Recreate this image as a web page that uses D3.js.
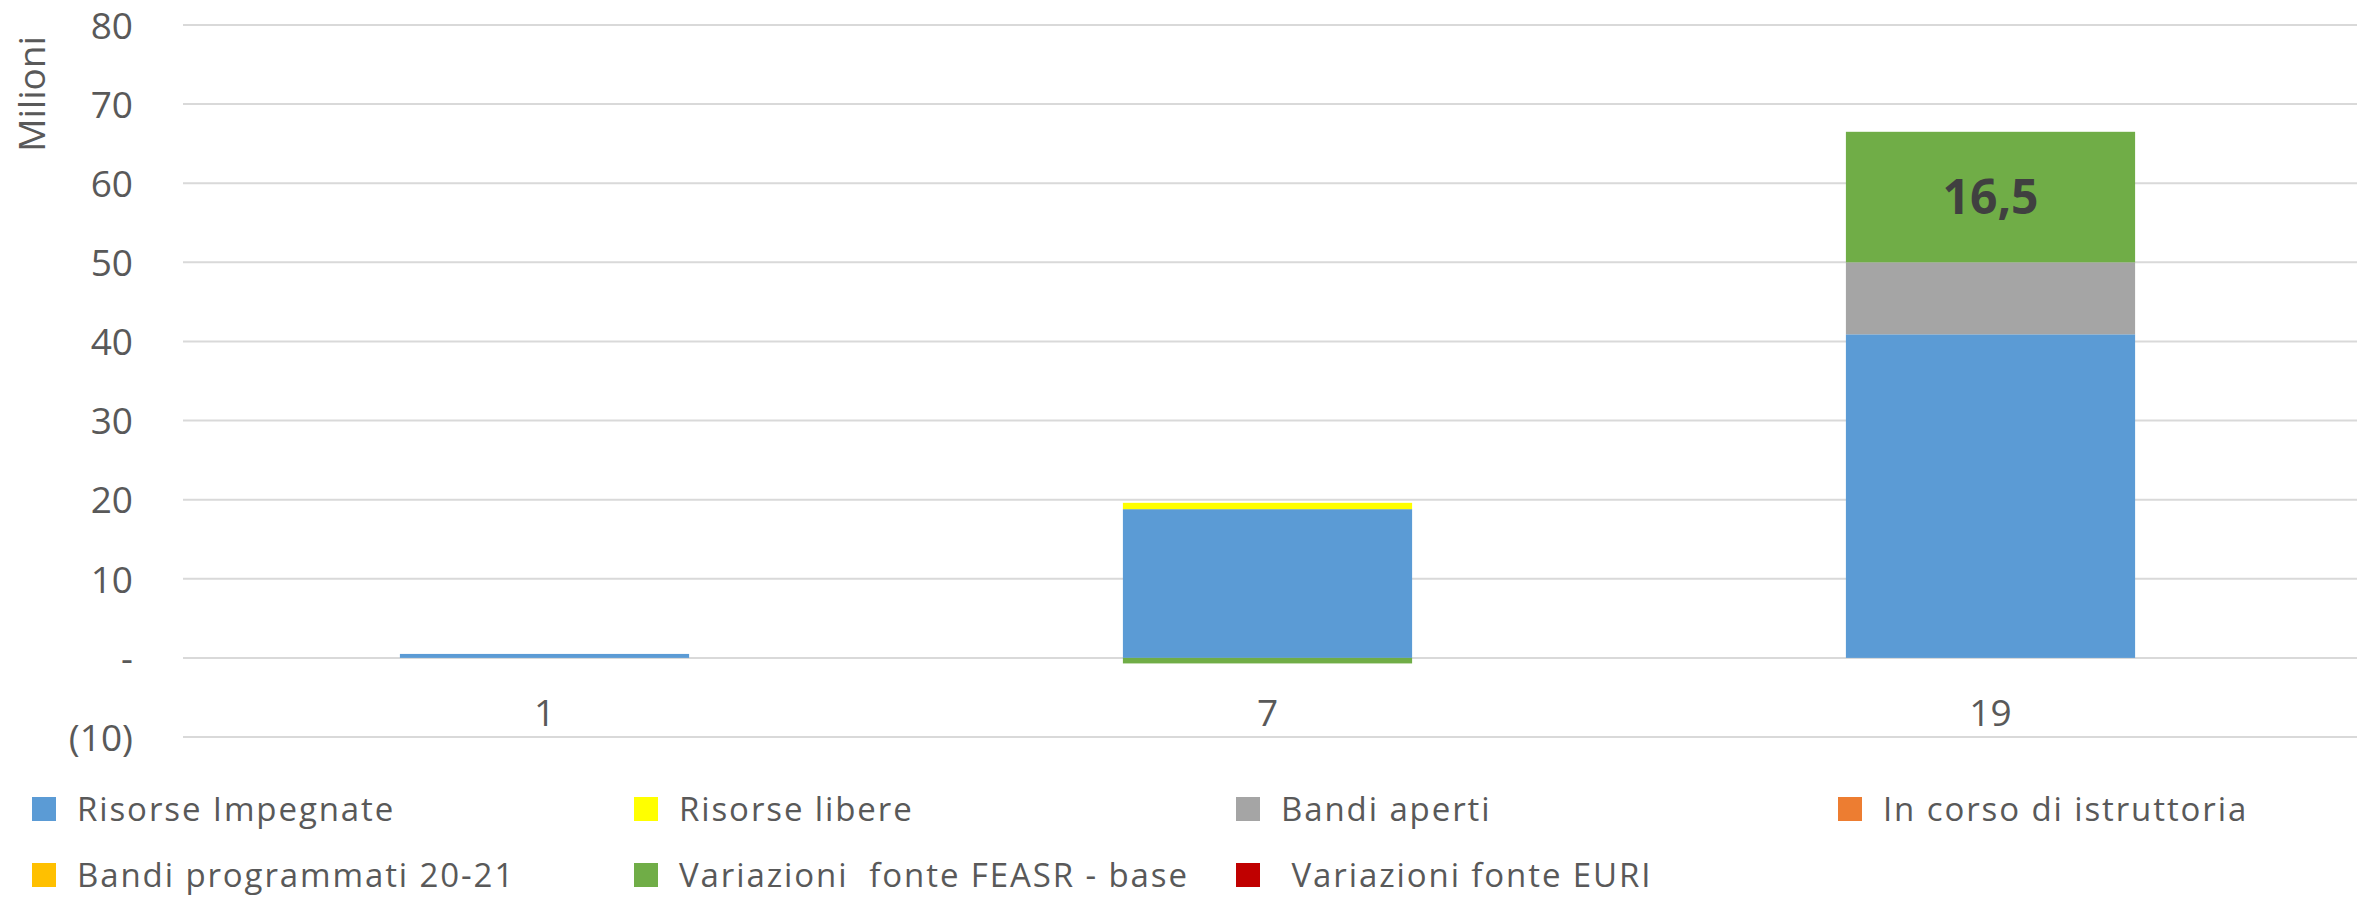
<!DOCTYPE html>
<html>
<head>
<meta charset="utf-8">
<script src="https://cdn.jsdelivr.net/npm/d3@7"></script>
<style>
  html, body { margin: 0; padding: 0; background: #fff; }
  svg { display: block; }
  text { font-family: "Open Sans", "Liberation Sans", sans-serif; }
</style>
</head>
<body>
<svg id="chart" width="2361" height="899"></svg>
<script>
// ---- data ----
const categories = ["1", "7", "19"];
const seriesNames = [
  "Risorse Impegnate",
  "Risorse libere",
  "Bandi aperti",
  "In corso di istruttoria",
  "Bandi programmati 20-21",
  "Variazioni  fonte FEASR - base",
  " Variazioni fonte EURI"
];
const seriesColors = ["#5b9bd5", "#ffff00", "#a5a5a5", "#ed7d31", "#ffc000", "#70ad47", "#c00000"];
const risorseImpegnate   = [0.5, 18.8, 40.9];
const risorseLibere      = [0, 0.8, 0];
const bandiAperti        = [0, 0, 9.1];
const inCorsoIstruttoria = [0, 0, 0];
const bandiProgrammati   = [0, 0, 0];
const variazioniFEASR    = [0, -0.7, 16.5];
const variazioniEURI     = [0, 0, 0];
const yTicks = [-10, 0, 10, 20, 30, 40, 50, 60, 70, 80];
const yAxisTitle = "Milioni";
const labelledSeries = "Variazioni  fonte FEASR - base";

// ---- build table ----
const seriesValues = [risorseImpegnate, risorseLibere, bandiAperti, inCorsoIstruttoria,
                      bandiProgrammati, variazioniFEASR, variazioniEURI];
const table = categories.map((c, i) => {
  const row = { cat: c };
  seriesNames.forEach((s, k) => row[s] = seriesValues[k][i]);
  return row;
});

const svg = d3.select("#chart");
const plotLeft = 183, plotRight = 2352;
const x = d3.scaleBand().domain(categories).range([plotLeft, plotRight]).paddingInner(0.6).paddingOuter(0.3);
const y = d3.scaleLinear().domain([-10, 80]).range([737, 25]);

const textColor = "#595959";
const gridColor = "#d9d9d9";

// gridlines
svg.append("g").selectAll("line").data(yTicks).join("line")
  .attr("x1", plotLeft).attr("x2", 2357)
  .attr("y1", d => y(d)).attr("y2", d => y(d))
  .attr("stroke", gridColor).attr("stroke-width", 2);

// y axis labels
const fmt = d => d === 0 ? "-" : (d < 0 ? "(" + Math.abs(d) + ")" : String(d));
const yAxis = d3.axisLeft(y).tickValues(yTicks).tickFormat(fmt).tickSize(0).tickPadding(0);
const gy = svg.append("g").attr("transform", "translate(133,0)").call(yAxis);
gy.select(".domain").remove();
gy.selectAll("text")
  .attr("font-family", "Open Sans").attr("font-size", 37).attr("fill", textColor)
  .attr("dy", "0.36em");

// y axis title
svg.append("text")
  .attr("transform", "translate(45,94) rotate(-90)")
  .attr("text-anchor", "middle")
  .attr("font-size", 37).attr("fill", textColor)
  .text(yAxisTitle);

// stacked bars
const stack = d3.stack().keys(seriesNames).offset(d3.stackOffsetDiverging);
const stacked = stack(table);

const bw = x.bandwidth();
svg.append("g").selectAll("g").data(stacked).join("g")
  .attr("fill", (d, i) => seriesColors[i])
  .selectAll("rect").data(d => d).join("rect")
  .attr("x", d => x(d.data.cat))
  .attr("width", bw)
  .attr("y", d => y(Math.max(d[0], d[1])))
  .attr("height", d => Math.abs(y(d[0]) - y(d[1])));

// data label
const labSeries = stacked.find(s => s.key === labelledSeries);
svg.append("g").selectAll("text").data(labSeries.filter(d => Math.abs(d[1] - d[0]) > 5)).join("text")
  .attr("x", d => x(d.data.cat) + bw / 2)
  .attr("y", d => (y(d[0]) + y(d[1])) / 2)
  .attr("dy", "0.36em")
  .attr("text-anchor", "middle")
  .attr("font-size", 48).attr("font-weight", "bold").attr("fill", "#404040")
  .text(d => d3.format(".1f")(d[1] - d[0]).replace(".", ","));

// x axis labels
const xAxis = d3.axisBottom(x).tickSize(0).tickPadding(0);
const gx = svg.append("g").attr("transform", "translate(0,726)").call(xAxis);
gx.select(".domain").remove();
gx.selectAll("text")
  .attr("font-family", "Open Sans").attr("font-size", 37).attr("fill", textColor)
  .attr("dy", 0).attr("y", 0);

// legend
const legCols = 4, colW = 602, legX0 = 32, rowY0 = 809, rowH = 66, sq = 24;
const leg = svg.append("g").selectAll("g").data(seriesNames).join("g")
  .attr("transform", (d, i) => `translate(${legX0 + (i % legCols) * colW},${rowY0 + Math.floor(i / legCols) * rowH})`);
leg.append("rect").attr("x", 0).attr("y", -sq / 2).attr("width", sq).attr("height", sq)
  .attr("fill", (d, i) => seriesColors[i]);
leg.append("text").attr("x", sq + 21).attr("y", 12)
  .attr("font-size", 33).attr("letter-spacing", 1.9).attr("fill", textColor)
  .style("white-space", "pre")
  .text(d => d);
</script>
</body>
</html>
